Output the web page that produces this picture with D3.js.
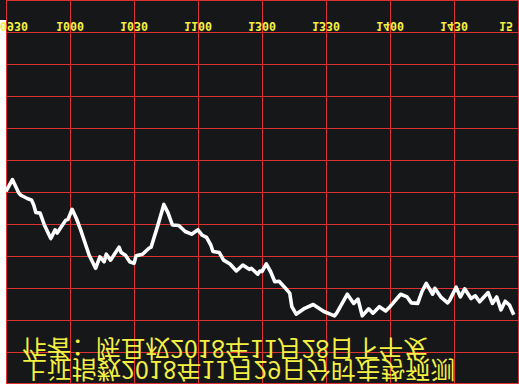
<!DOCTYPE html>
<html>
<head>
<meta charset="utf-8">
<script src="https://cdn.jsdelivr.net/npm/d3@7"></script>
<style>
  html, body { margin: 0; padding: 0; background: #161719; overflow: hidden; }
  svg { display: block; }
</style>
</head>
<body>
<script>
// ---- data ----
const tickMinutes = [0, 30, 60, 90, 120, 150, 180, 210, 240];
const timeLabels = ["0930", "1000", "1030", "1100", "1300", "1330", "1400", "1430", "15"];
const titleLines = ["作者：陈且权2018年11月28日下午发", "上证指数2018年11月29日分时走势预测"];
const minutes = [0, 3, 6, 7, 10, 12, 13, 14, 16, 18, 21, 23, 24, 28, 29, 31, 33, 35, 39, 42,
  44, 46, 47, 49, 53, 54, 56, 58, 60, 61, 64, 67, 68, 71, 74, 76, 78, 81, 84, 87,
  90, 92, 94, 96, 97, 100, 102, 105, 108, 111, 114, 115, 118, 119, 120, 122, 124, 126, 128, 131,
  133, 134, 136, 140, 144, 149, 154, 155, 160, 163, 165, 167, 170, 172, 175, 178, 180, 185, 188, 190,
  193, 195, 197, 200, 201, 204, 207, 208, 211, 213, 215, 218, 220, 222, 226, 228, 230, 232, 234, 236, 238];
const values = [2578.4, 2576.2, 2578.7, 2579.1, 2579.7, 2580.0, 2580.9, 2582.3, 2582.4, 2584.6, 2587.1, 2585.5, 2586.1, 2583.7, 2583.6, 2581.7, 2583.4, 2585.5, 2590.2, 2592.6,
  2590.5, 2591.4, 2590.0, 2591.1, 2588.7, 2589.7, 2590.2, 2591.4, 2591.7, 2590.3, 2590.0, 2588.9, 2588.7, 2584.9, 2580.8, 2582.4, 2584.6, 2584.7, 2585.8, 2586.3,
  2585.5, 2586.5, 2586.9, 2588.3, 2589.5, 2589.7, 2591.1, 2591.8, 2593.1, 2592.0, 2592.8, 2592.6, 2593.7, 2593.1, 2593.2, 2591.8, 2593.2, 2595.1, 2595.0, 2596.3,
  2597.2, 2599.7, 2601.1, 2600.0, 2599.3, 2600.6, 2601.4, 2600.9, 2597.4, 2599.1, 2598.3, 2601.4, 2600.1, 2600.9, 2599.7, 2600.5, 2599.7, 2597.4, 2597.9, 2599.0,
  2599.1, 2596.9, 2595.4, 2597.4, 2596.3, 2598.0, 2599.0, 2598.5, 2596.1, 2597.9, 2596.4, 2598.2, 2597.7, 2598.8, 2597.1, 2599.1, 2597.9, 2600.3, 2598.7, 2599.4, 2601.2];

// ---- layout ----
const W = 519, H = 384;
const svg = d3.select("body").append("svg").attr("width", W).attr("height", H);

const x = d3.scaleLinear().domain([0, 240]).range([6, 518]);
// picture is vertically mirrored: higher index value sits lower on screen
const y = d3.scaleLinear().domain([2543, 2614]).range([0, 384]);

svg.append("rect").attr("width", W).attr("height", H).attr("fill", "#161719");
svg.append("rect").attr("x", 0).attr("y", 20).attr("width", 6).attr("height", H - 20).attr("fill", "#ffffff");

const gridColor = "#dc3232";
const grid = svg.append("g").attr("shape-rendering", "crispEdges");
// horizontal grid rows
grid.selectAll("line.h").data(d3.range(13)).join("line")
  .attr("class", "h")
  .attr("x1", 6).attr("x2", 519)
  .attr("y1", i => Math.min(i * 32, 383) + 0.5)
  .attr("y2", i => Math.min(i * 32, 383) + 0.5)
  .attr("stroke", gridColor).attr("stroke-width", 1);
// vertical grid lines from the time scale
grid.selectAll("line.v").data(tickMinutes).join("line")
  .attr("class", "v")
  .attr("x1", d => Math.round(x(d)) + 0.5).attr("x2", d => Math.round(x(d)) + 0.5)
  .attr("y1", 0).attr("y2", H)
  .attr("stroke", gridColor).attr("stroke-width", 1);

// price line
const line = d3.line().x((d, i) => x(minutes[i])).y(d => y(d));
svg.append("path").datum(values)
  .attr("d", line)
  .attr("fill", "none")
  .attr("stroke", "#ffffff")
  .attr("stroke-width", 3.6)
  .attr("stroke-linejoin", "round");

// time labels (mirrored text)
const yellow = "#f4f042";
const lab = svg.append("g");
lab.selectAll("text").data(tickMinutes).join("text")
  .text((d, i) => timeLabels[i])
  .attr("font-family", "'DejaVu Sans Mono', monospace")
  .attr("font-weight", "bold")
  .attr("font-size", 11.6)
  .attr("fill", yellow)
  .each(function (d) {
    const t = d3.select(this);
    const w = this.getComputedTextLength();
    let sx = x(d) - w / 2;
    if (sx < 0) sx = 0;
    if (sx + w > 513) sx = 513 - w;
    t.attr("transform", `translate(${sx},22) scale(1,-1)`);
  });

// caption lines (mirrored text)
const capY = [340, 361];
const capW = [406, 433];
svg.append("g").selectAll("text").data(titleLines).join("text")
  .text(d => d)
  .attr("font-family", "'Noto Sans CJK SC', sans-serif")
  .attr("font-size", 24)
  .attr("fill", yellow)
  .attr("textLength", (d, i) => capW[i])
  .attr("lengthAdjust", "spacingAndGlyphs")
  .attr("transform", (d, i) => `translate(22,${capY[i]}) scale(1,-1)`);
</script>
</body>
</html>
